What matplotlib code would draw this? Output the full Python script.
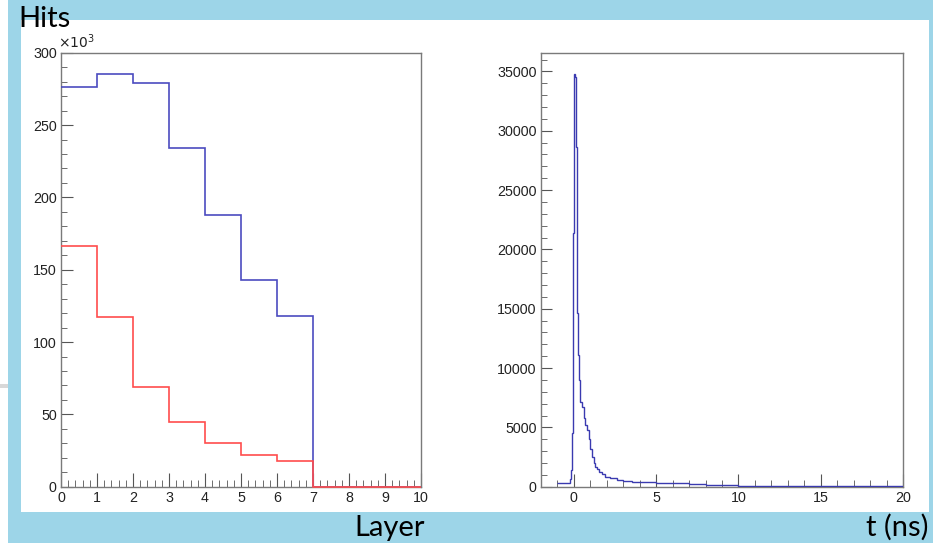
import matplotlib.pyplot as plt
from matplotlib.patches import Rectangle
from matplotlib.ticker import MultipleLocator, FuncFormatter
import numpy as np

# Дані: гістограма по шарах (ліва панель)
layer_edges = np.arange(0, 11)
hits_blue = [276000, 285000, 279000, 234000, 188000, 143000, 118000, 0, 0, 0]
hits_red = [166600, 117000, 69000, 45000, 30400, 21700, 17800, 0, 0, 0]

# Дані: розподіл часу (права панель), межі бінів
t_edges = [-1.0, -0.5, -0.3, -0.25, -0.2, -0.1, -0.06, 0.0, 0.05, 0.1, 0.16, 0.2,
           0.24, 0.3, 0.4, 0.5, 0.6, 0.7, 0.8, 0.9, 1.0, 1.1, 1.2, 1.3, 1.4, 1.5,
           1.7, 1.9, 2.2, 2.6, 3.0, 3.5, 4.0, 5.0, 6.0, 7.0, 8.0, 9.0, 10.0, 12.0,
           14.0, 16.0, 18.0, 20.0]
t_counts = [300, 280, 350, 650, 1400, 4500, 21400, 34800, 34500, 28600, 19000,
            14600, 11100, 9000, 7100, 6700, 5800, 5200, 4800, 4000, 3200, 2500,
            2000, 1700, 1450, 1250, 1050, 850, 700, 560, 470, 420, 380, 330, 270,
            220, 170, 130, 100, 80, 60, 45, 35]

W, H = 933, 543
fig = plt.figure(figsize=(W / 100, H / 100), dpi=100)
fig.patch.set_facecolor('#9dd5e8')

def px_rect(x0, y0, x1, y1, **kw):
    # прямокутник у пікселях (y від верху)
    fig.patches.append(Rectangle((x0 / W, 1 - y1 / H), (x1 - x0) / W, (y1 - y0) / H,
                                 transform=fig.transFigure, zorder=-5, **kw))

px_rect(21, 20, 929, 512, facecolor='white', edgecolor='none')
px_rect(0, 0, 8, H, facecolor='white', edgecolor='none')
px_rect(0, 384, 8, 388, facecolor='#d8d8d8', edgecolor='none')

spine_col = '#7a7a7a'
tick_size = 10.3

def style_axis(ax):
    ax.patch.set_alpha(0)
    for s in ax.spines.values():
        s.set_color(spine_col)
        s.set_linewidth(1.0)
    ax.tick_params(which='both', direction='in', top=False, right=False,
                   color='#555555', labelcolor='#222222', labelsize=tick_size, pad=3)
    for lab in ax.get_xticklabels() + ax.get_yticklabels():
        lab.set_family('Liberation Sans')

# Ліва панель
ax1 = fig.add_axes([61 / W, 1 - 486.7 / H, 360 / W, 434 / H])
ax1.stairs(hits_blue, layer_edges, color='#4b4bc0', linewidth=1.2, zorder=3, baseline=None)
ax1.stairs(hits_red, layer_edges, color='#ff4d4d', linewidth=1.2, zorder=4,
           clip_on=False, baseline=None)
ax1.set_xlim(0, 10)
ax1.set_ylim(0, 300000)
ax1.xaxis.set_major_locator(MultipleLocator(1))
ax1.xaxis.set_minor_locator(MultipleLocator(0.2))
ax1.yaxis.set_major_locator(MultipleLocator(50000))
ax1.yaxis.set_minor_locator(MultipleLocator(10000))
ax1.yaxis.set_major_formatter(FuncFormatter(lambda v, p: '%d' % round(v / 1000)))
ax1.tick_params(axis='x', which='major', length=10)
ax1.tick_params(axis='x', which='minor', length=5)
ax1.tick_params(axis='y', which='major', length=8.5)
ax1.tick_params(axis='y', which='minor', length=4.3)
style_axis(ax1)
ax1.text(-0.007, 1.004, r'$\times10^{3}$', transform=ax1.transAxes, ha='left', va='bottom',
         fontsize=10, color='#222222', family='Liberation Sans')

# Права панель
ax2 = fig.add_axes([541 / W, 1 - 486.7 / H, 362 / W, 434 / H])
ax2.stairs(t_counts, t_edges, color='#3a3ab0', linewidth=1.0, zorder=3, baseline=None)
ax2.set_xlim(-2, 20)
ax2.set_ylim(0, 36580)
ax2.xaxis.set_major_locator(MultipleLocator(5))
ax2.xaxis.set_minor_locator(MultipleLocator(1))
ax2.yaxis.set_major_locator(MultipleLocator(5000))
ax2.yaxis.set_minor_locator(MultipleLocator(1000))
ax2.tick_params(axis='x', which='major', length=9.5)
ax2.tick_params(axis='x', which='minor', length=4.7)
ax2.tick_params(axis='y', which='major', length=8)
ax2.tick_params(axis='y', which='minor', length=4.3)
style_axis(ax2)

# Підписи слайду
big = dict(family='Lato', size=21, color='black', va='baseline')
fig.text(18 / W, 1 - 27 / H, 'Hits', ha='left', **big)
fig.text(354 / W, 1 - 536 / H, 'Layer', ha='left', **big)
fig.text(929 / W, 1 - 536 / H, 't (ns)', ha='right', **big)

fig.savefig('out.png', dpi=100, facecolor=fig.get_facecolor())
